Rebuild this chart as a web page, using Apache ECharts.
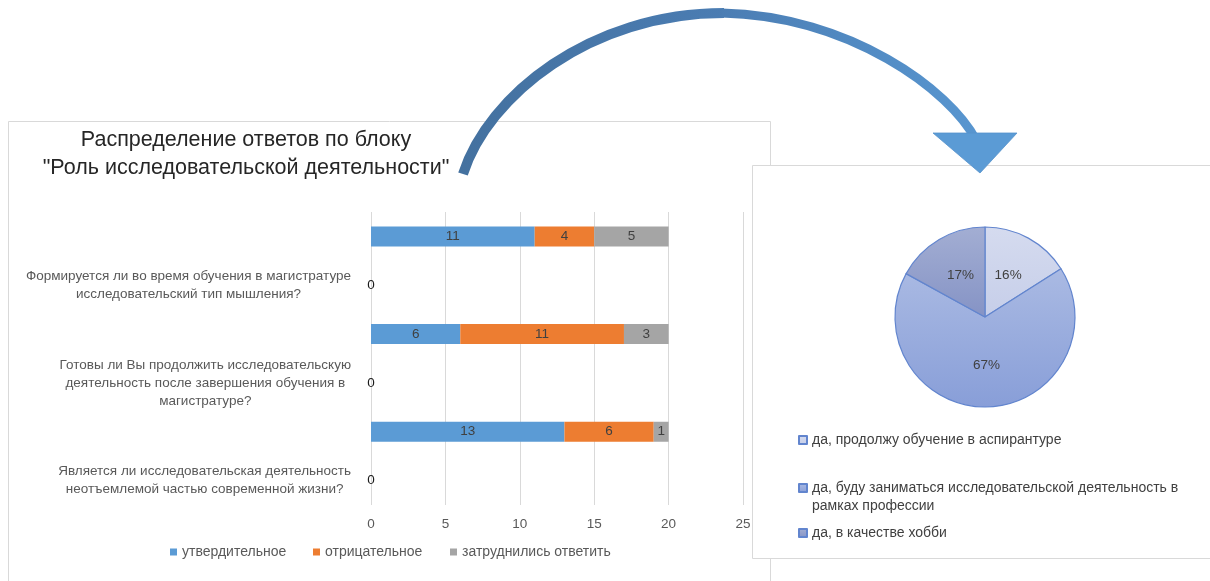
<!DOCTYPE html>
<html>
<head>
<meta charset="utf-8">
<script src="https://cdn.jsdelivr.net/npm/echarts@6/dist/echarts.min.js"></script>
<style>
html,body{margin:0;padding:0;background:#fff;}
#main{width:1210px;height:581px;}
</style>
</head>
<body>
<div id="main"></div>
<script>
// ---- Data: bar chart ----
const barCategories = [
  '',
  'Формируется ли во время обучения в магистратуре\nисследовательский тип мышления?',
  '',
  'Готовы ли Вы продолжить исследовательскую\nдеятельность после завершения обучения в\nмагистратуре?',
  '',
  'Является ли исследовательская деятельность\nнеотъемлемой частью современной жизни?'
];
const seriesNames = ['утвердительное', 'отрицательное', 'затруднились ответить'];
const affirmative = [11, 0, 6, 0, 13, 0];
const negative = [4, 0, 11, 0, 6, 0];
const undecided = [5, 0, 3, 0, 1, 0];
const xTicks = [0, 5, 10, 15, 20, 25];

// ---- Data: pie chart ----
const pieNames = [
  'да, продолжу обучение в аспирантуре',
  'да, буду заниматься исследовательской деятельность в рамках профессии',
  'да, в качестве хобби'
];
const pieValues = [16, 67, 17];

const titleLines = ['Распределение ответов по блоку', '"Роль исследовательской деятельности"'];

const FONT = 'Liberation Sans, Arial, sans-serif';
const barColors = ['#5B9BD5', '#ED7D31', '#A5A5A5'];
const pieFills = [
  ['#D5DBEF', '#C6CEE9'],
  ['#AABAE3', '#889ED8'],
  ['#A3AED3', '#8593C5']
];

const chart = echarts.init(document.getElementById('main'), null, {renderer: 'canvas'});

function grad(c) {
  return {type: 'linear', x: 0, y: 0, x2: 0, y2: 1, colorStops: [{offset: 0, color: c[0]}, {offset: 1, color: c[1]}]};
}

const barSeriesData = [affirmative, negative, undecided];
const barSeries = barSeriesData.map((arr, si) => ({
  name: seriesNames[si],
  type: 'bar',
  stack: 'total',
  barWidth: 20,
  data: arr,
  itemStyle: {color: barColors[si]},
  label: {
    show: true,
    position: 'inside',
    fontFamily: FONT,
    fontSize: 13.5,
    color: '#404040',
    formatter: p => (p.value === 0 ? (si === 0 ? '{z|0}' : '') : String(p.value)),
    rich: {z: {color: '#1a1a1a', fontSize: 13.5, fontFamily: FONT}}
  },
  emphasis: {disabled: true}
}));

const bottomLegendX = [170, 313, 450];
const bottomLegends = seriesNames.map((n, i) => ({
  data: [n],
  left: bottomLegendX[i],
  top: 543,
  padding: 0,
  itemWidth: 7,
  itemHeight: 7,
  icon: 'rect',
  selectedMode: false,
  textStyle: {fontFamily: FONT, fontSize: 14, color: '#595959', lineHeight: 18}
}));

const pieLegendTop = [431, 461, 524];
const pieLegendFmt = [
  n => n,
  n => '\nда, буду заниматься исследовательской деятельность в\nрамках профессии',
  n => n
];
const pieLegends = pieNames.map((n, i) => ({
  data: [n],
  left: 798,
  top: pieLegendTop[i],
  padding: 0,
  itemWidth: 8,
  itemHeight: 8,
  icon: 'rect',
  selectedMode: false,
  formatter: pieLegendFmt[i],
  textStyle: {fontFamily: FONT, fontSize: 14, color: '#404040', lineHeight: 18}
}));

const option = {
  animation: false,
  backgroundColor: '#ffffff',
  title: {
    text: titleLines.join('\n'),
    left: 246,
    top: 126,
    textAlign: 'center',
    padding: 0,
    textStyle: {fontFamily: FONT, fontSize: 21.5, fontWeight: 'normal', color: '#262626', lineHeight: 28}
  },
  legend: bottomLegends.concat(pieLegends),
  grid: {left: 371, top: 212, width: 372, height: 293, containLabel: false},
  xAxis: {
    type: 'value',
    min: 0, max: 25, interval: 5,
    axisLine: {show: false},
    axisTick: {show: false},
    splitLine: {show: true, lineStyle: {color: '#d9d9d9', width: 1}},
    axisLabel: {
      fontFamily: FONT, fontSize: 13.5, color: '#595959', margin: 12,
      formatter: v => (xTicks.indexOf(v) >= 0 ? String(v) : '')
    }
  },
  yAxis: {
    type: 'category',
    inverse: true,
    data: barCategories,
    axisLine: {show: false},
    axisTick: {show: false},
    axisLabel: {
      margin: 20,
      align: 'right',
      formatter: v => v ? v.split('\n').map(l => '{c|' + l + '}').join('\n') : '',
      rich: {c: {align: 'center', fontFamily: FONT, fontSize: 13.5, color: '#595959', lineHeight: 18}}
    }
  },
  series: barSeries.concat([{
    name: 'pie',
    type: 'pie',
    center: [985, 317],
    radius: 90,
    startAngle: 90,
    clockwise: true,
    percentPrecision: 0,
    data: pieNames.map((n, i) => ({name: n, value: pieValues[i], itemStyle: {color: grad(pieFills[i])}})),
    itemStyle: {borderColor: '#6285CE', borderWidth: 1.2},
    label: {show: true, position: 'inside', formatter: '{d}%', fontFamily: FONT, fontSize: 13.5, color: '#404040'},
    labelLine: {show: false},
    emphasis: {disabled: true}
  }]),
  graphic: [
    {type: 'rect', z: -10, shape: {x: 8.5, y: 121.5, width: 762, height: 480}, style: {fill: '#fff', stroke: '#d9d9d9', lineWidth: 1}},
    {type: 'rect', z: -9, shape: {x: 752.5, y: 165.5, width: 480, height: 393}, style: {fill: '#fff', stroke: '#d9d9d9', lineWidth: 1}},
    {type: 'bezierCurve', z: 50,
      shape: {x1: 463, y1: 174, cpx1: 488, cpy1: 96, cpx2: 590, cpy2: 13, x2: 724, y2: 13},
      style: {fill: null, lineWidth: 10, stroke: {type: 'linear', x: 0, y: 0, x2: 1, y2: 0, colorStops: [{offset: 0, color: '#44719F'}, {offset: 1, color: '#4B7DB3'}]}}},
    {type: 'bezierCurve', z: 50,
      shape: {x1: 722, y1: 13, cpx1: 850, cpy1: 16, cpx2: 950, cpy2: 90, x2: 976, y2: 140},
      style: {fill: null, lineWidth: 9, stroke: {type: 'linear', x: 0, y: 0, x2: 1, y2: 0, colorStops: [{offset: 0, color: '#4B7DB3'}, {offset: 1, color: '#5896D0'}]}}},
    {type: 'polygon', z: 51, shape: {points: [[933, 133], [1017, 133], [980, 173]]}, style: {fill: '#5B9BD5', stroke: '#5592CB', lineWidth: 0.8}}
  ]
};
chart.setOption(option);
</script>
</body>
</html>
